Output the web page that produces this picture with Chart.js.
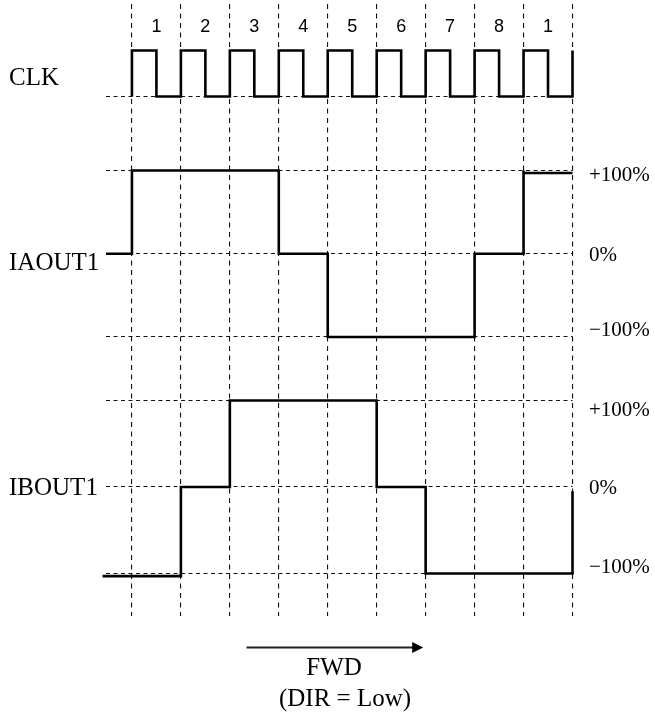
<!DOCTYPE html>
<html>
<head>
<meta charset="utf-8">
<title>CLK / IAOUT1 / IBOUT1 timing</title>
<script src="https://cdn.jsdelivr.net/npm/chart.js@4.4.0/dist/chart.umd.min.js"></script>
<style>
  html, body { margin: 0; padding: 0; background: #fff; }
  canvas { display: block; }
</style>
</head>
<body>
<canvas id="timingChart" width="655" height="715"></canvas>
<script>
// step numbers written above each clock period
const stepLabels = ['1', '2', '3', '4', '5', '6', '7', '8', '1'];

// CLK: time (clock periods) and logic level
const clkTimes  = [0, 0, 0.5, 1, 1.5, 2, 2.5, 3, 3.5, 4, 4.5, 5, 5.5, 6, 6.5, 7, 7.5, 8, 8.5, 9];
const clkLevels = [0, 1, 0,   1, 0,   1, 0,   1, 0,   1, 0,   1, 0,   1, 0,   1, 0,   1, 0,   1];

// IAOUT1 current in % of full scale, each value holds until the next time
const iaTimes  = [-0.53, 0, 3, 4, 7, 8, 8, 9];
const iaValues = [0, 100, 0, -100, 0, 100, 97, 97];

// IBOUT1 current in % of full scale
const ibTimes  = [-0.6, 1, 2, 5, 6, 9];
const ibValues = [-103, 0, 100, 0, -100, -5];

// levels marked on the right of both current traces
const levelTicks  = [-100, 0, 100];
const levelLabels = ['\u2212100%', '0%', '+100%'];

const AREA_TOP = 4, AREA_BOTTOM = 616;

// give an axis the range that puts two known values at two pixel rows
function fitRange(vHigh, pxHigh, vLow, pxLow) {
  const perPx = (vHigh - vLow) / (pxLow - pxHigh);
  return {
    max: vHigh + perPx * (pxHigh - AREA_TOP),
    min: vLow - perPx * (AREA_BOTTOM - pxLow)
  };
}
const clkRange = fitRange(1, 50.5, 0, 96.5);
const iaRange  = fitRange(100, 170.5, -100, 337);
const ibRange  = fitRange(100, 400.5, -100, 573.5);

function toPoints(xs, ys) {
  return xs.map((x, i) => ({ x: x, y: ys[i] }));
}

function trace(label, xs, ys, axisId) {
  return {
    label: label,
    data: toPoints(xs, ys),
    yAxisID: axisId,
    borderColor: '#000',
    borderWidth: 2.6,
    borderJoinStyle: 'miter',
    borderCapStyle: 'butt',
    pointRadius: 0,
    fill: false,
    stepped: 'before',
    clip: false
  };
}

function levelAxis(range, ticks) {
  return {
    type: 'linear',
    position: 'left',
    min: range.min,
    max: range.max,
    afterBuildTicks: (axis) => { axis.ticks = ticks.map(v => ({ value: v })); },
    ticks: { display: false },
    grid: { color: '#111', lineWidth: 1.1, drawTicks: false },
    border: { display: false, dash: [4, 3.5] }
  };
}

const SERIF = '"Liberation Serif", "Times New Roman", serif';
const SANS = '"Liberation Sans", Arial, sans-serif';

const textPlugin = {
  id: 'timingText',
  afterDraw(chart) {
    const { ctx, scales } = chart;
    const x = scales.x;
    ctx.save();
    ctx.fillStyle = '#000';

    // period numbers across the top
    ctx.font = '18px ' + SANS;
    ctx.textAlign = 'center';
    ctx.textBaseline = 'middle';
    stepLabels.forEach((s, i) => ctx.fillText(s, x.getPixelForValue(i + 0.5), 27));

    // signal names
    ctx.font = '25px ' + SERIF;
    ctx.textAlign = 'left';
    ctx.textBaseline = 'alphabetic';
    ctx.fillText('CLK', 9, 85);
    ctx.fillText('IAOUT1', 9, 270);
    ctx.fillText('IBOUT1', 9, 495);

    // percentage marks on the right
    ctx.font = '21px ' + SERIF;
    ctx.textBaseline = 'middle';
    const iaShift = [-7, 2, 5];
    const ibShift = [-6, 1, 10];
    levelTicks.forEach((v, i) => {
      ctx.fillText(levelLabels[i], 589, scales.yA.getPixelForValue(v) + iaShift[i]);
      ctx.fillText(levelLabels[i], 589, scales.yB.getPixelForValue(v) + ibShift[i]);
    });

    // direction arrow
    const ax0 = x.getPixelForValue(2.34), ax1 = x.getPixelForValue(5.95), ay = 647.5;
    ctx.strokeStyle = '#222';
    ctx.lineWidth = 2;
    ctx.beginPath();
    ctx.moveTo(ax0, ay);
    ctx.lineTo(ax1 - 10, ay);
    ctx.stroke();
    ctx.fillStyle = '#000';
    ctx.beginPath();
    ctx.moveTo(ax1, ay);
    ctx.lineTo(ax1 - 11, ay - 5.5);
    ctx.lineTo(ax1 - 11, ay + 5.5);
    ctx.closePath();
    ctx.fill();

    ctx.font = '25px ' + SERIF;
    ctx.textAlign = 'center';
    ctx.textBaseline = 'alphabetic';
    ctx.fillText('FWD', 334, 675);
    ctx.fillText('(DIR = Low)', 345, 706);
    ctx.restore();
  }
};

const canvas = document.getElementById('timingChart');
new Chart(canvas.getContext('2d'), {
  type: 'line',
  data: {
    datasets: [
      trace('CLK', clkTimes, clkLevels, 'yClk'),
      trace('IAOUT1', iaTimes, iaValues, 'yA'),
      trace('IBOUT1', ibTimes, ibValues, 'yB')
    ]
  },
  options: {
    responsive: false,
    devicePixelRatio: 1,
    animation: false,
    layout: { padding: { left: 106, right: 82.5, top: AREA_TOP, bottom: 715 - AREA_BOTTOM } },
    plugins: { legend: { display: false }, tooltip: { enabled: false } },
    scales: {
      x: {
        type: 'linear',
        min: -0.53,
        max: 9,
        afterBuildTicks: (axis) => { axis.ticks = stepLabels.concat(['']).map((_, i) => ({ value: i })); },
        ticks: { display: false },
        grid: { color: '#111', lineWidth: 1.1, drawTicks: false },
        border: { display: false, dash: [5, 4.5] }
      },
      yClk: levelAxis(clkRange, [0]),
      yA: levelAxis(iaRange, levelTicks),
      yB: levelAxis(ibRange, levelTicks)
    }
  },
  plugins: [textPlugin]
});
</script>
</body>
</html>
